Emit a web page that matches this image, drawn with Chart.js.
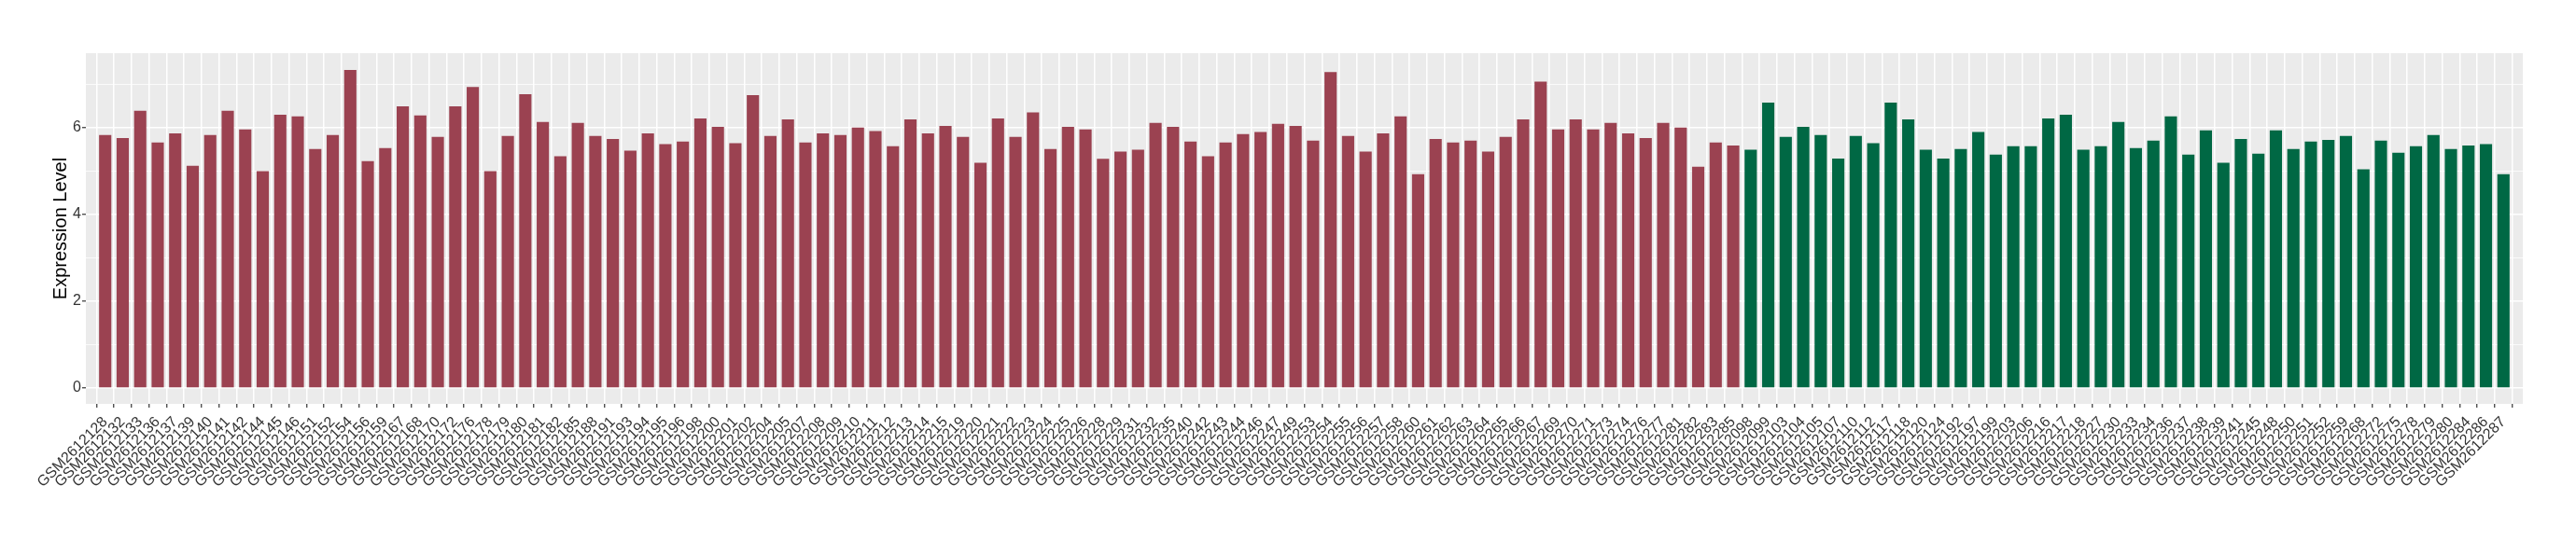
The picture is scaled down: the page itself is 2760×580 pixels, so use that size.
<!DOCTYPE html>
<html>
<head>
<meta charset="utf-8">
<script src="https://cdn.jsdelivr.net/npm/chart.js@4/dist/chart.umd.min.js"></script>
<style>
  html, body { margin: 0; padding: 0; background: #fff; }
  canvas { display: block; }
</style>
</head>
<body>
<canvas id="chart" width="2760" height="580"></canvas>
<script>
// first group (red)
const redSamples = [
  'GSM2612128', 'GSM2612132', 'GSM2612133', 'GSM2612136', 'GSM2612137', 'GSM2612139', 'GSM2612140',
  'GSM2612141', 'GSM2612142', 'GSM2612144', 'GSM2612145', 'GSM2612146', 'GSM2612151', 'GSM2612152',
  'GSM2612154', 'GSM2612156', 'GSM2612159', 'GSM2612167', 'GSM2612168', 'GSM2612170', 'GSM2612172',
  'GSM2612176', 'GSM2612178', 'GSM2612179', 'GSM2612180', 'GSM2612181', 'GSM2612182', 'GSM2612185',
  'GSM2612188', 'GSM2612191', 'GSM2612193', 'GSM2612194', 'GSM2612195', 'GSM2612196', 'GSM2612198',
  'GSM2612200', 'GSM2612201', 'GSM2612202', 'GSM2612204', 'GSM2612205', 'GSM2612207', 'GSM2612208',
  'GSM2612209', 'GSM2612210', 'GSM2612211', 'GSM2612212', 'GSM2612213', 'GSM2612214', 'GSM2612215',
  'GSM2612219', 'GSM2612220', 'GSM2612221', 'GSM2612222', 'GSM2612223', 'GSM2612224', 'GSM2612225',
  'GSM2612226', 'GSM2612228', 'GSM2612229', 'GSM2612231', 'GSM2612232', 'GSM2612235', 'GSM2612240',
  'GSM2612242', 'GSM2612243', 'GSM2612244', 'GSM2612246', 'GSM2612247', 'GSM2612249', 'GSM2612253',
  'GSM2612254', 'GSM2612255', 'GSM2612256', 'GSM2612257', 'GSM2612258', 'GSM2612260', 'GSM2612261',
  'GSM2612262', 'GSM2612263', 'GSM2612264', 'GSM2612265', 'GSM2612266', 'GSM2612267', 'GSM2612269',
  'GSM2612270', 'GSM2612271', 'GSM2612273', 'GSM2612274', 'GSM2612276', 'GSM2612277', 'GSM2612281',
  'GSM2612282', 'GSM2612283', 'GSM2612285'
]
const redValues = [
  5.83, 5.76, 6.39, 5.66, 5.87, 5.12, 5.83, 6.39, 5.96, 5.00, 6.30, 6.26, 5.51, 5.83,
  7.33, 5.23, 5.53, 6.49, 6.28, 5.79, 6.49, 6.94, 5.00, 5.81, 6.77, 6.13, 5.34, 6.11,
  5.81, 5.74, 5.47, 5.87, 5.62, 5.68, 6.21, 6.02, 5.64, 6.75, 5.81, 6.19, 5.66, 5.87,
  5.83, 6.00, 5.92, 5.57, 6.19, 5.87, 6.04, 5.79, 5.19, 6.21, 5.79, 6.35, 5.51, 6.02,
  5.96, 5.28, 5.45, 5.49, 6.11, 6.02, 5.68, 5.34, 5.66, 5.85, 5.90, 6.09, 6.04, 5.70,
  7.28, 5.81, 5.45, 5.87, 6.26, 4.93, 5.74, 5.66, 5.70, 5.45, 5.79, 6.19, 7.06, 5.96,
  6.19, 5.96, 6.11, 5.87, 5.76, 6.11, 6.00, 5.10, 5.66, 5.59
]

// second group (green)
const greenSamples = [
  'GSM2612098', 'GSM2612099', 'GSM2612103', 'GSM2612104', 'GSM2612105', 'GSM2612107', 'GSM2612110',
  'GSM2612112', 'GSM2612117', 'GSM2612118', 'GSM2612120', 'GSM2612124', 'GSM2612192', 'GSM2612197',
  'GSM2612199', 'GSM2612203', 'GSM2612206', 'GSM2612216', 'GSM2612217', 'GSM2612218', 'GSM2612227',
  'GSM2612230', 'GSM2612233', 'GSM2612234', 'GSM2612236', 'GSM2612237', 'GSM2612238', 'GSM2612239',
  'GSM2612241', 'GSM2612245', 'GSM2612248', 'GSM2612250', 'GSM2612251', 'GSM2612252', 'GSM2612259',
  'GSM2612268', 'GSM2612272', 'GSM2612275', 'GSM2612278', 'GSM2612279', 'GSM2612280', 'GSM2612284',
  'GSM2612286', 'GSM2612287'
]
const greenValues = [
  5.49, 6.58, 5.79, 6.02, 5.83, 5.29, 5.81, 5.64, 6.58, 6.19, 5.49, 5.29, 5.51, 5.90,
  5.38, 5.57, 5.57, 6.21, 6.30, 5.49, 5.57, 6.13, 5.53, 5.70, 6.26, 5.38, 5.94, 5.19,
  5.74, 5.40, 5.94, 5.51, 5.68, 5.72, 5.81, 5.04, 5.70, 5.42, 5.57, 5.83, 5.51, 5.59,
  5.62, 4.93
]

const yTicks = [0, 1, 2, 3, 4, 5, 6, 7]

const RED = '#9b4251'
const GREEN = '#006844'

const samples = redSamples.concat(greenSamples)
const values = redValues.concat(greenValues)
const colors = redSamples.map(() => RED).concat(greenSamples.map(() => GREEN))

Chart.defaults.font.family = '"Liberation Sans", Arial, Helvetica, sans-serif'

const panelBackground = {
  id: 'panelBackground',
  beforeDraw (chart) {
    const { ctx, chartArea: a } = chart
    ctx.save()
    ctx.fillStyle = '#ebebeb'
    ctx.fillRect(a.left, a.top, a.right - a.left, a.bottom - a.top)
    ctx.restore()
  }
}

new Chart(document.getElementById('chart').getContext('2d'), {
  type: 'bar',
  data: {
    datasets: [{
      data: values.map((v, i) => ({ x: i, y: v })),
      backgroundColor: colors,
      borderWidth: 0,
      barPercentage: 0.7,
      categoryPercentage: 1
    }]
  },
  options: {
    responsive: false,
    animation: false,
    devicePixelRatio: 1,
    layout: { padding: { top: 57, right: 57, left: 0, bottom: 0 } },
    plugins: {
      legend: { display: false },
      tooltip: { enabled: false }
    },
    scales: {
      x: {
        type: 'linear',
        min: -0.6,
        max: samples.length - 1 + 0.6,
        afterBuildTicks: scale => { scale.ticks = samples.map((s, i) => ({ value: i })) },
        afterFit: scale => { scale.height = 147 },
        border: { display: false },
        grid: {
          color: '#ffffff',
          lineWidth: 1.5,
          tickColor: '#333333',
          tickWidth: 1.2,
          tickLength: 4
        },
        ticks: {
          autoSkip: false,
          minRotation: 45,
          maxRotation: 45,
          padding: 6,
          color: '#333333',
          font: { size: 16 },
          callback: v => samples[v]
        }
      },
      y: {
        min: -0.3675,
        max: 7.7175,
        afterBuildTicks: scale => { scale.ticks = yTicks.map(v => ({ value: v })) },
        afterFit: scale => { scale.width = 92 },
        border: { display: false },
        grid: {
          color: '#ffffff',
          lineWidth: ctx => (ctx.tick && ctx.tick.value % 2 === 0 ? 1.5 : 0.75),
          tickColor: ctx => (ctx.tick && ctx.tick.value % 2 === 0 ? '#333333' : 'rgba(0,0,0,0)'),
          tickWidth: 1.2,
          tickLength: 4
        },
        ticks: {
          padding: 1,
          color: '#333333',
          font: { size: 16 },
          callback: v => (v % 2 === 0 ? v : '')
        },
        title: {
          display: true,
          text: 'Expression Level',
          color: '#000000',
          font: { size: 20 },
          padding: { top: 53, bottom: 0 }
        }
      }
    }
  },
  plugins: [panelBackground]
})
</script>
</body>
</html>
